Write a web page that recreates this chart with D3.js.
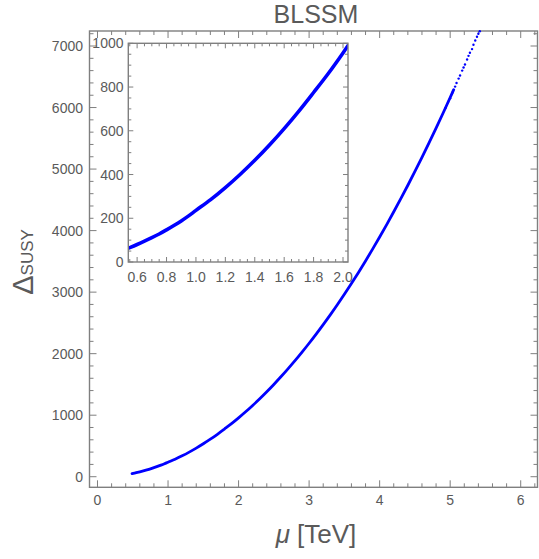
<!DOCTYPE html>
<html>
<head>
<meta charset="utf-8">
<script src="https://cdn.jsdelivr.net/npm/d3@7"></script>
<style>
  html, body { margin: 0; padding: 0; background: #fff; }
  svg { display: block; }
  text { font-family: "Liberation Sans", Arial, Helvetica, sans-serif; fill: #5a5a5a; }
</style>
</head>
<body>
<svg id="chart" width="539" height="559"></svg>
<script>
// Dense band of scan points: mu [TeV] and Delta_SUSY
const muDense = [0.49, 0.55, 0.60, 0.65, 0.70, 0.75, 0.80, 0.85, 0.90, 0.95,
  1.00, 1.10, 1.20, 1.30, 1.40, 1.50, 1.60, 1.70, 1.80, 1.90,
  2.00, 2.10, 2.20, 2.30, 2.40, 2.50, 2.60, 2.70, 2.80, 2.90,
  3.00, 3.10, 3.20, 3.30, 3.40, 3.50, 3.60, 3.70, 3.80, 3.90,
  4.00, 4.10, 4.20, 4.30, 4.40, 4.50, 4.60, 4.70, 4.80, 4.90, 5.00, 5.05];
const deltaDense = [50, 66, 80, 95, 111, 128, 147, 167, 188, 211,
  236, 285, 340, 400, 465, 535, 610, 690, 775, 862,
  956, 1055, 1159, 1267, 1381, 1500, 1624, 1753, 1886, 2025,
  2169, 2318, 2472, 2631, 2795, 2965, 3140, 3321, 3507, 3699,
  3896, 4098, 4306, 4519, 4737, 4961, 5191, 5425, 5666, 5911, 6163, 6290];

// Sparse points at the top end of the scan
const muSparse = [4.93, 4.97, 5.00, 5.03, 5.07, 5.09, 5.12, 5.14, 5.17, 5.19, 5.21, 5.24, 5.26, 5.28, 5.31, 5.33, 5.355, 5.38, 5.40, 5.42];
const deltaSparse = [5990, 6090, 6150, 6240, 6340, 6400, 6470, 6520, 6600, 6650, 6700, 6780, 6840, 6890, 6950, 7020, 7090, 7150, 7200, 7240];

// Tick values
const mainXTicks = [0, 1, 2, 3, 4, 5, 6];
const mainYTicks = [0, 1000, 2000, 3000, 4000, 5000, 6000, 7000];
const insetXTicks = [0.6, 0.8, 1.0, 1.2, 1.4, 1.6, 1.8, 2.0];
const insetYTicks = [0, 200, 400, 600, 800, 1000];

const points = muDense.map((m, i) => ({mu: m, d: deltaDense[i]}));
const sparse = muSparse.map((m, i) => ({mu: m, d: deltaSparse[i]}));

const svg = d3.select("#chart");
const frameColor = "#7f7f7f";
const blue = "#0000ff";

// ---------- main panel ----------
const M = {left: 89.5, right: 537.5, top: 31, bottom: 487.3};
const x = d3.scaleLinear().domain([-0.1134, 6.238]).range([M.left, M.right]);
const y = d3.scaleLinear().domain([-172, 7244]).range([M.bottom, M.top]);

function range(a, b, s) { const r = []; for (let v = a; v <= b + 1e-9; v += s) r.push(+v.toFixed(4)); return r; }
const mainXMinor = range(0, 6.2, 0.2).filter(v => Math.abs(v - Math.round(v)) > 1e-6);
const mainYMinor = range(0, 7200, 200).filter(v => v % 1000 !== 0);

// Frame with inward ticks on all four sides (labels drawn separately)
function drawFrame(g, xs, ys, box, xMaj, xMin, yMaj, yMin, majLen, minLen) {
  const lines = g.append("g").attr("stroke", frameColor).attr("stroke-width", 1);
  [[xMaj, majLen], [xMin, minLen]].forEach(([vals, len]) => {
    vals.forEach(v => {
      const px = xs(v);
      if (px < box.left - 0.5 || px > box.right + 0.5) return;
      lines.append("line").attr("x1", px).attr("x2", px).attr("y1", box.bottom).attr("y2", box.bottom - len);
      lines.append("line").attr("x1", px).attr("x2", px).attr("y1", box.top).attr("y2", box.top + len);
    });
  });
  [[yMaj, majLen], [yMin, minLen]].forEach(([vals, len]) => {
    vals.forEach(v => {
      const py = ys(v);
      if (py < box.top - 0.5 || py > box.bottom + 0.5) return;
      lines.append("line").attr("y1", py).attr("y2", py).attr("x1", box.left).attr("x2", box.left + len);
      lines.append("line").attr("y1", py).attr("y2", py).attr("x1", box.right).attr("x2", box.right - len);
    });
  });
  g.append("rect").attr("x", box.left).attr("y", box.top)
    .attr("width", box.right - box.left).attr("height", box.bottom - box.top)
    .attr("fill", "none").attr("stroke", frameColor).attr("stroke-width", 1.4);
}

const mainG = svg.append("g");
drawFrame(mainG, x, y, M, mainXTicks, mainXMinor, mainYTicks, mainYMinor, 7, 4);

mainG.selectAll(".xl").data(mainXTicks).enter().append("text")
  .attr("x", d => x(d)).attr("y", 505).attr("text-anchor", "middle")
  .attr("font-size", 14).text(d => d);
mainG.selectAll(".yl").data(mainYTicks).enter().append("text")
  .attr("x", 83).attr("y", d => y(d) + 5).attr("text-anchor", "end")
  .attr("font-size", 14).text(d => d);

// title and axis labels
svg.append("text").attr("x", 316).attr("y", 23).attr("text-anchor", "middle")
  .attr("font-size", 25).text("BLSSM");
const xl = svg.append("text").attr("x", 316).attr("y", 543).attr("text-anchor", "middle").attr("font-size", 26);
xl.append("tspan").attr("font-style", "italic").text("μ");
xl.append("tspan").text(" [TeV]");
const yl = svg.append("text").attr("transform", "translate(33,262) rotate(-90)")
  .attr("text-anchor", "middle");
yl.append("tspan").attr("font-size", 29).text("Δ");
yl.append("tspan").attr("font-size", 17).text("SUSY");

// ---------- inset ----------
const I = {left: 128.3, right: 348, top: 43.3, bottom: 262};
const xi = d3.scaleLinear().domain([0.54, 2.034]).range([I.left, I.right]);
const yi = d3.scaleLinear().domain([0, 1000]).range([I.bottom, I.top]);
const insetXMinor = range(0.55, 2.05, 0.05).filter(v => Math.abs(v * 5 - Math.round(v * 5)) > 1e-6);
const insetYMinor = range(0, 1000, 50).filter(v => v % 200 !== 0);

const insetG = svg.append("g");
insetG.append("rect").attr("x", I.left).attr("y", I.top)
  .attr("width", I.right - I.left).attr("height", I.bottom - I.top).attr("fill", "#fff");

svg.append("clipPath").attr("id", "insetClip").append("rect")
  .attr("x", I.left).attr("y", I.top).attr("width", I.right - I.left).attr("height", I.bottom - I.top);

const lineI = d3.line().x(d => xi(d.mu)).y(d => yi(d.d)).curve(d3.curveCatmullRom);
insetG.append("path").datum(points).attr("clip-path", "url(#insetClip)")
  .attr("d", lineI).attr("fill", "none").attr("stroke", blue)
  .attr("stroke-width", 3.6).attr("stroke-linejoin", "round");

drawFrame(insetG, xi, yi, I, insetXTicks, insetXMinor, insetYTicks, insetYMinor, 5, 3);
insetG.selectAll(".ixl").data(insetXTicks).enter().append("text")
  .attr("x", d => xi(d)).attr("y", 282).attr("text-anchor", "middle")
  .attr("font-size", 14).text(d => d.toFixed(1));
insetG.selectAll(".iyl").data(insetYTicks).enter().append("text")
  .attr("x", 123.5).attr("y", d => yi(d) + 5).attr("text-anchor", "end")
  .attr("font-size", 14).text(d => d);

// ---------- main data ----------
const lineM = d3.line().x(d => x(d.mu)).y(d => y(d.d)).curve(d3.curveCatmullRom);
svg.append("path").datum(points).attr("d", lineM).attr("fill", "none")
  .attr("stroke", blue).attr("stroke-width", 2.8).attr("stroke-linejoin", "round")
  .attr("stroke-linecap", "round");
svg.append("g").selectAll("circle").data(sparse).enter().append("circle")
  .attr("cx", d => x(d.mu)).attr("cy", d => y(d.d)).attr("r", 1.2).attr("fill", blue);
</script>
</body>
</html>
